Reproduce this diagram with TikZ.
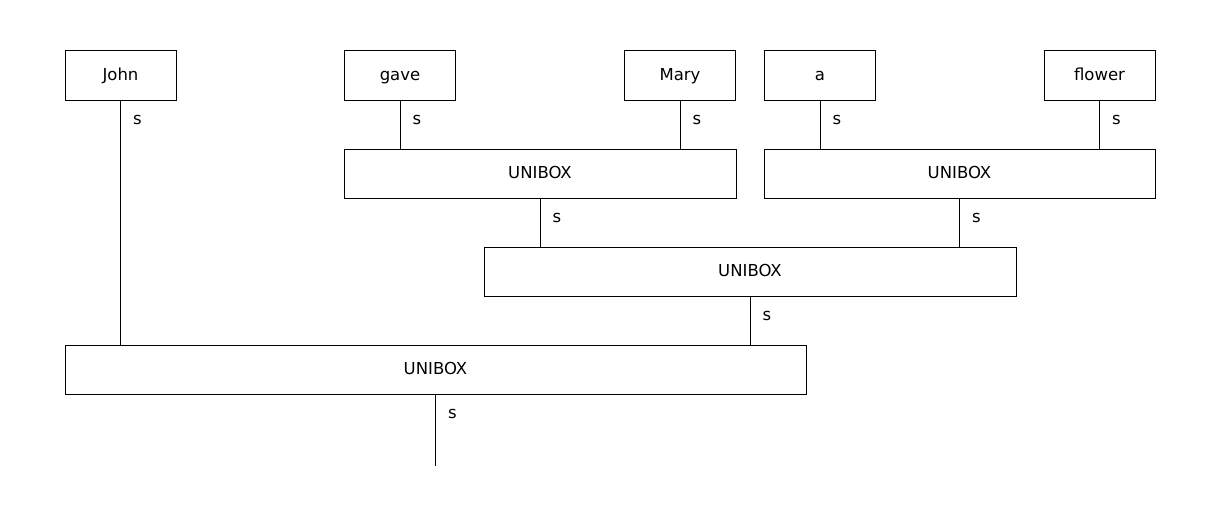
\documentclass[tikz,border=0pt]{standalone}
\usepackage{fontspec}
\setmainfont{DejaVu Sans}
\usetikzlibrary{calc}

\tikzset{
  word/.style={draw, line width=1pt, minimum width=111pt, minimum height=49pt, inner sep=0pt,
    text height=1.05em, text depth=0.05em},
  unibox/.style={word, minimum width=#1},
  slabel/.style={pos=0, anchor=west, inner sep=0pt, xshift=12pt, yshift=-19.5pt}
}

\begin{document}
\begin{tikzpicture}[x=1pt, y=-1pt, font=\fontsize{16.5}{19}\selectfont]
 \useasboundingbox (0,0) rectangle (1220,519);
 % words
 \node[word] (john)   at (120.5,75.5)  {John};
 \node[word] (gave)   at (400,75.5)    {gave};
 \node[word] (mary)   at (680,75.5)    {Mary};
 \node[word] (a)      at (820,75.5)    {a};
 \node[word] (flower) at (1099.5,75.5) {flower};
 % combining boxes
 \node[unibox=392pt] (gm) at (540,173.5)   {UNIBOX};
 \node[unibox=391pt] (af) at (959.5,173.5) {UNIBOX};
 \node[unibox=532pt] (vp) at (750,271.5)   {UNIBOX};
 \node[unibox=741pt] (top) at (435.5,369.5) {UNIBOX};
 \coordinate (out) at (top.south |- 0,466);
  \path[draw, line width=1pt]
  (john.south) edge node [slabel] {s} (john.south |- top.north)
  (gave.south) edge node [slabel] {s} (gave.south |- gm.north)
  (mary.south) edge node [slabel] {s} (mary.south |- gm.north)
  (a.south) edge node [slabel] {s} (a.south |- af.north)
  (flower.south) edge node [slabel] {s} (flower.south |- af.north)
  (gm.south) edge node [slabel] {s} (gm.south |- vp.north)
  (af.south) edge node [slabel] {s} (af.south |- vp.north)
  (vp.south) edge node [slabel] {s} (vp.south |- top.north)
  (top.south) edge node [slabel] {s} (out)
;
\end{tikzpicture}
\end{document}
